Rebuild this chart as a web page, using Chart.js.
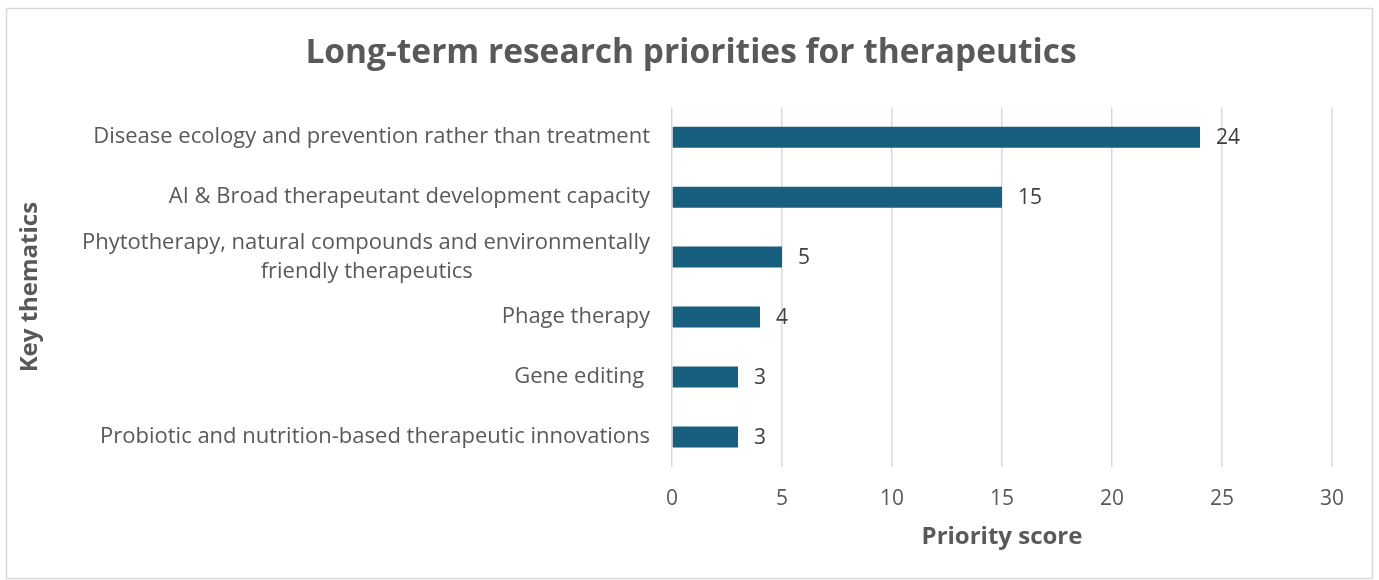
<!DOCTYPE html>
<html>
<head>
<meta charset="utf-8">
<script src="https://cdn.jsdelivr.net/npm/chart.js@4"></script>
<style>
  html, body { margin: 0; padding: 0; background: #fff; }
  #wrap { width: 1379px; height: 580px; }
</style>
</head>
<body>
<div id="wrap"><canvas id="chart" width="1379" height="580"></canvas></div>
<script>
let themes = [
    'Disease ecology and prevention rather than treatment',
    'AI & Broad therapeutant development capacity',
    ['Phytotherapy, natural compounds and environmentally', 'friendly therapeutics'],
    'Phage therapy',
    'Gene editing ',
    'Probiotic and nutrition-based therapeutic innovations'
];
let scores = [24, 15, 5, 4, 3, 3];
let xTicks = [0, 5, 10, 15, 20, 25, 30];

let fontFamily = "'Open Sans', 'DejaVu Sans', sans-serif";
let textGray = '#595959';
let labelSize = 22;

// centre the lines of a wrapped label while the block stays right-aligned
function padLines(label) {
    if (!Array.isArray(label)) return label;
    let c = document.createElement('canvas').getContext('2d');
    c.font = labelSize + 'px ' + fontFamily;
    let widest = Math.max(...label.map(l => c.measureText(l).width));
    let sp = c.measureText(' ').width;
    return label.map(l => l + ' '.repeat(Math.round((widest - c.measureText(l).width) / 2 / sp)));
}

let frame = {
    id: 'frame',
    beforeDraw(chart) {
        let ctx = chart.ctx;
        ctx.save();
        ctx.fillStyle = '#fff';
        ctx.fillRect(0, 0, chart.width, chart.height);
        ctx.strokeStyle = '#d9d9d9';
        ctx.lineWidth = 1.5;
        ctx.strokeRect(6.5, 8.5, 1366, 570);
        ctx.restore();
    }
};

let valueLabels = {
    id: 'valueLabels',
    afterDatasetsDraw(chart) {
        let ctx = chart.ctx;
        let meta = chart.getDatasetMeta(0);
        ctx.save();
        ctx.font = '21px ' + fontFamily;
        ctx.fillStyle = '#404040';
        ctx.textAlign = 'left';
        ctx.textBaseline = 'middle';
        meta.data.forEach((bar, i) => {
            ctx.fillText(String(scores[i]), bar.x + 16, bar.y + 1);
        });
        ctx.restore();
    }
};

let ctx = document.getElementById('chart').getContext('2d');
let chart = new Chart(ctx, {
    type: 'bar',
    data: {
        labels: themes.map(padLines),
        datasets: [{
            data: scores,
            backgroundColor: '#175e7f',
            borderColor: '#175e7f',
            borderWidth: 0,
            categoryPercentage: 1,
            barPercentage: 0.35
        }]
    },
    options: {
        indexAxis: 'y',
        responsive: false,
        animation: false,
        layout: { padding: { left: 12, right: 9, top: 20, bottom: 26 } },
        plugins: {
            legend: { display: false },
            tooltip: { enabled: false },
            title: {
                display: true,
                text: 'Long-term research priorities for therapeutics',
                color: textGray,
                font: { family: fontFamily, size: 33.5, weight: 'bold' },
                padding: { top: 13, bottom: 34 }
            }
        },
        scales: {
            x: {
                min: 0,
                max: 30,
                afterBuildTicks(scale) {
                    scale.ticks = xTicks.map(v => ({ value: v }));
                },
                afterFit(scale) { scale.height = 87; },
                grid: { color: '#d9d9d9', lineWidth: 1.5, drawTicks: false },
                border: { display: false },
                ticks: {
                    color: textGray,
                    padding: 19,
                    font: { family: fontFamily, size: 21 }
                },
                title: {
                    display: true,
                    text: 'Priority score',
                    color: textGray,
                    font: { family: fontFamily, size: 24, weight: 'bold' },
                    padding: { top: 4, bottom: 2 }
                }
            },
            y: {
                afterFit(scale) { scale.width = 672 - 12; },
                grid: { display: false, drawTicks: false },
                border: { display: false },
                ticks: {
                    color: textGray,
                    padding: 22,
                    autoSkip: false,
                    font: { family: fontFamily, size: labelSize, lineHeight: 1.3 }
                },
                title: {
                    display: true,
                    text: 'Key thematics',
                    color: textGray,
                    font: { family: fontFamily, size: 24, weight: 'bold' },
                    padding: { top: 4, bottom: 4 }
                }
            },
            // empty right-hand margin so the title centres like the original
            rightGap: {
                type: 'linear',
                position: 'right',
                afterFit(scale) { scale.width = 1370 - 1332; },
                grid: { display: false, drawTicks: false },
                border: { display: false },
                ticks: { display: false }
            }
        }
    },
    plugins: [frame, valueLabels]
});
</script>
</body>
</html>
